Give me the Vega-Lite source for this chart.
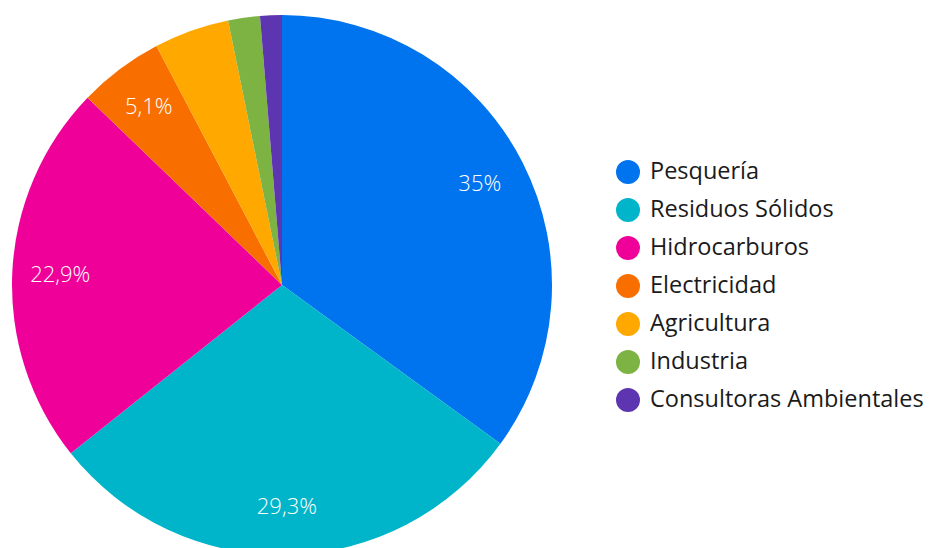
{
  "$schema": "https://vega.github.io/schema/vega-lite/v6.json",
  "width": 932,
  "height": 548,
  "autosize": {"type": "none"},
  "padding": 0,
  "background": "white",
  "data": {
    "values": [
      {"sector": "Pesquería", "value": 35.0, "label": "35%", "order": 1},
      {"sector": "Residuos Sólidos", "value": 29.3, "label": "29,3%", "order": 2},
      {"sector": "Hidrocarburos", "value": 22.9, "label": "22,9%", "order": 3},
      {"sector": "Electricidad", "value": 5.1, "label": "5,1%", "order": 4},
      {"sector": "Agricultura", "value": 4.5, "label": "", "order": 5},
      {"sector": "Industria", "value": 1.9, "label": "", "order": 6},
      {"sector": "Consultoras Ambientales", "value": 1.3, "label": "", "order": 7}
    ]
  },
  "encoding": {
    "theta": {"field": "value", "type": "quantitative", "stack": true},
    "order": {"field": "order", "type": "quantitative"}
  },
  "layer": [
    {
      "mark": {"type": "arc", "outerRadius": 270, "x": 282, "y": 285},
      "encoding": {
        "color": {
          "field": "sector",
          "type": "nominal",
          "sort": ["Pesquería", "Residuos Sólidos", "Hidrocarburos", "Electricidad", "Agricultura", "Industria", "Consultoras Ambientales"],
          "scale": {
            "domain": ["Pesquería", "Residuos Sólidos", "Hidrocarburos", "Electricidad", "Agricultura", "Industria", "Consultoras Ambientales"],
            "range": ["#0073EE", "#00B5C9", "#EE0099", "#F86F00", "#FFA800", "#7CB342", "#5E35B1"]
          },
          "legend": {
            "title": null,
            "orient": "none",
            "legendX": 616,
            "legendY": 160,
            "padding": 0,
            "symbolType": "circle",
            "symbolSize": 576,
            "symbolStrokeWidth": 0,
            "symbolOpacity": 1,
            "labelFont": "Open Sans",
            "labelFontSize": 23.5,
            "labelFontWeight": "normal",
            "labelColor": "#1a1a1a",
            "labelOffset": 10,
            "rowPadding": 14,
            "labelLimit": 400
          }
        }
      }
    },
    {
      "mark": {"type": "text", "radius": 222, "x": 282, "y": 285, "font": "Open Sans", "fontSize": 22, "fontWeight": 300, "color": "white"},
      "encoding": {
        "text": {"field": "label", "type": "nominal"}
      }
    }
  ]
}
